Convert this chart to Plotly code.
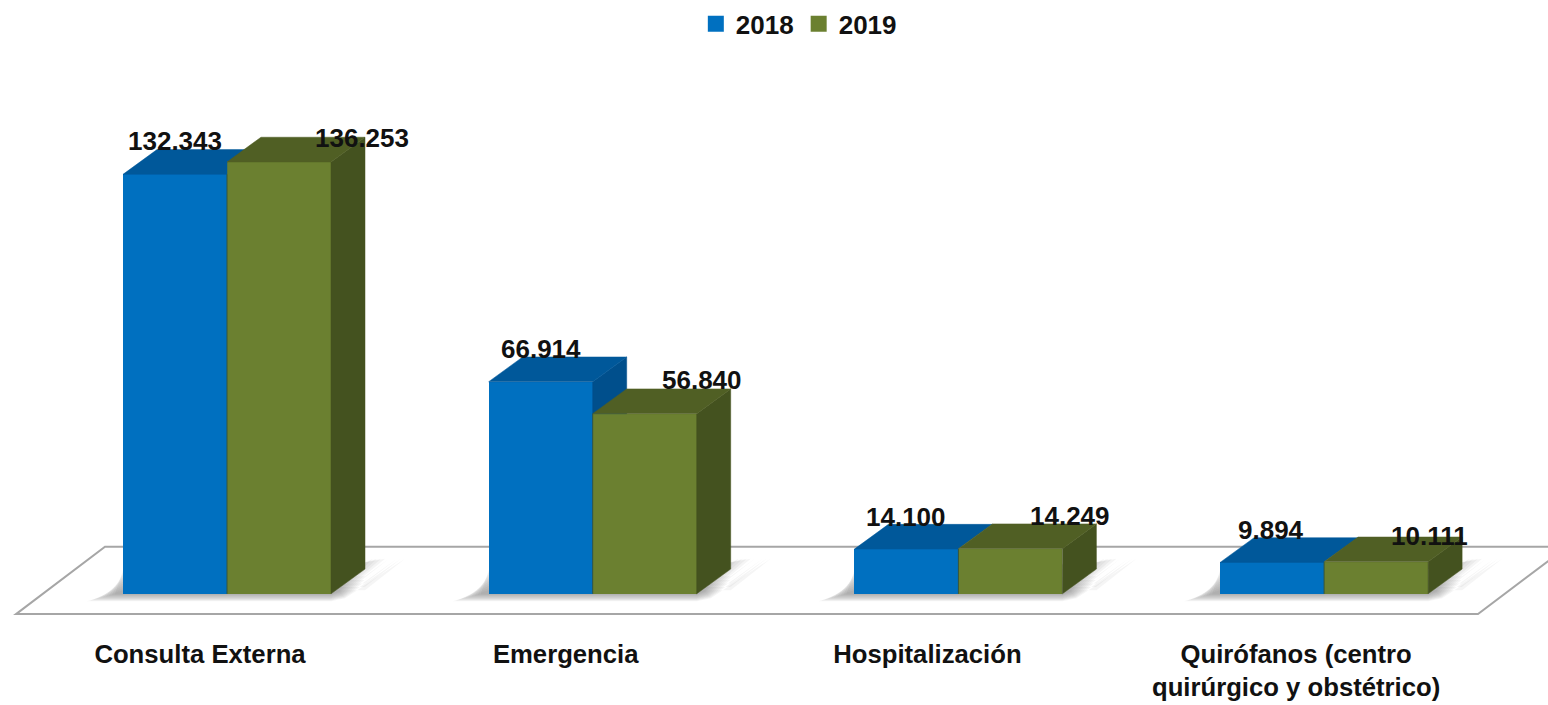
import plotly.graph_objects as go

categories = ["Consulta Externa", "Emergencia", "Hospitalización", "Quirófanos (centro<br>quirúrgico y obstétrico)"]
series_2018 = [132343, 66914, 14100, 9894]
series_2019 = [136253, 56840, 14249, 10111]
labels_2018 = ["132.343", "66.914", "14.100", "9.894"]
labels_2019 = ["136.253", "56.840", "14.249", "10.111"]

# --- styling / geometry ---
W, H = 1548, 705
PLOT_BOTTOM = 625
ZERO_PX_X, ZERO_PX_Y = 227, 593.5
UNIT_X = 365.7        # px per category
UNIT_Y = 0.0032       # px per value unit
px = 1 / UNIT_X
py = 1 / UNIT_Y
DX, DY = 34 * px, 25 * py       # 3D depth
BAR_W = 104 * px
FONT = "Liberation Sans, Arial, sans-serif"
BLUE, BLUE_TOP, BLUE_SIDE = "#0070C0", "#00589A", "#004F8C"
GREEN, GREEN_TOP, GREEN_SIDE = "#6B8030", "#505F24", "#44521F"

xs = list(range(len(categories)))
fig = go.Figure()

fig.add_bar(x=xs, y=series_2018, width=BAR_W, offset=-BAR_W, marker=dict(color=BLUE, line=dict(width=0)),
            showlegend=False, name="2018")
fig.add_bar(x=xs, y=series_2019, width=BAR_W, offset=0, marker=dict(color=GREEN, line=dict(width=0)),
            showlegend=False, name="2019")


def poly(xp, yp, color):
    fig.add_scatter(x=xp + xp[:1], y=yp + yp[:1], mode="lines", fill="toself", fillcolor=color,
                    line=dict(width=0.5, color=color), hoverinfo="skip", showlegend=False)


for i, (a, b) in enumerate(zip(series_2018, series_2019)):
    l, m, r = i - BAR_W, float(i), i + BAR_W
    # 2018 side, only where it rises above the 2019 bar
    if a > b:
        poly([m, m + DX, m + DX, m], [a, a + DY, b, b], BLUE_SIDE)
        poly([l, m, m + DX, l + DX], [a, a, a + DY, a + DY], BLUE_TOP)
    else:
        poly([l, m, m, m + DX, l + DX], [a, a, min(b, a + DY), a + DY, a + DY], BLUE_TOP)
    # 2019 side and top
    poly([r, r + DX, r + DX, r], [0, DY, b + DY, b], GREEN_SIDE)
    poly([m, r, r + DX, m + DX], [b, b, b + DY, b + DY], GREEN_TOP)
    # thin dark seam between the two front faces
    fig.add_scatter(x=[m, m], y=[0, min(a, b)], mode="lines", line=dict(width=1, color="#35543F"),
                    hoverinfo="skip", showlegend=False)

# legend entries
for name, color in (("2018", BLUE), ("2019", GREEN)):
    fig.add_scatter(x=[None], y=[None], mode="markers", name=name,
                    marker=dict(symbol="square", size=16, color=color))

# --- floor and soft shadows (below the bars) ---
def X(p):
    return (p - ZERO_PX_X) * px


def Y(p):
    return (ZERO_PX_Y - p) * py


def path(points):
    return "M " + " L ".join(f"{X(a)},{Y(b)}" for a, b in points) + " Z"


shapes = [dict(type="path", layer="below", xref="x", yref="y",
               path=path([(16, 614), (105, 546), (1567, 546), (1478, 614)]),
               fillcolor="white", line=dict(color="#A6A6A6", width=2))]
for i in xs:
    base = ZERO_PX_X + i * UNIT_X
    for k in range(10):
        g = 1 - k / 9
        bottom = 594 + 7 * g
        shapes.append(dict(
            type="path", layer="below", xref="x", yref="y",
            path=path([(base - 112 - 28 * g, bottom), (base - 104, 590 - 20 * (1 - g)),
                       (base + 138, 590 - 32 * (1 - g) if g > 0.5 else 562), (base + 142 + 36 * g, 558),
                       (base + 112 + 6 * g, bottom - 3), (base + 104, bottom)]),
            fillcolor="rgba(80,80,80,0.06)", line=dict(width=0)))

# --- data labels ---
OFF_2018 = [(0, 33), (0, 33), (0, 32), (-1, 32)]
OFF_2019 = [(83, 24), (57, 34), (60, 33), (53, 26)]
TICK_SHIFT = [-27, -27, -31, -28]
ann = []
for i in xs:
    for v, t, off, (sx, sy) in (
        (series_2018[i], labels_2018[i], -BAR_W / 2, OFF_2018[i]),
        (series_2019[i], labels_2019[i], BAR_W / 2, OFF_2019[i]),
    ):
        ann.append(dict(x=i + off, y=v, text=f"<b>{t}</b>", showarrow=False, xshift=sx, yshift=sy,
                        font=dict(family=FONT, size=26, color="#111111")))

fig.update_layout(
    width=W, height=H,
    margin=dict(l=0, r=0, t=0, b=H - PLOT_BOTTOM, pad=0),
    paper_bgcolor="white", plot_bgcolor="white",
    bargap=0, showlegend=True,
    shapes=shapes, annotations=ann,
    legend=dict(orientation="h", x=0.4495, xanchor="left", y=1.009, yanchor="top",
                font=dict(family=FONT, size=26, color="#111111", weight="bold"),
                itemsizing="trace", traceorder="normal", itemclick=False, itemdoubleclick=False,
                bgcolor="rgba(0,0,0,0)", tracegroupgap=0),
    xaxis=dict(range=[-ZERO_PX_X * px, (W - ZERO_PX_X) * px], showgrid=False, zeroline=False, showline=False,
               tickmode="array", tickvals=[i + s * px for i, s in zip(xs, TICK_SHIFT)],
               ticktext=[f"<b>{c}</b>" for c in categories],
               tickfont=dict(family=FONT, size=25.7, color="#111111"), ticks="", tickangle=0, ticklabelstandoff=11),
    yaxis=dict(range=[Y(PLOT_BOTTOM), Y(0)], visible=False),
)

fig.write_html("out.html", config=dict(displayModeBar=False),
               post_script="document.body.style.margin='0';document.body.style.overflow='hidden';")
